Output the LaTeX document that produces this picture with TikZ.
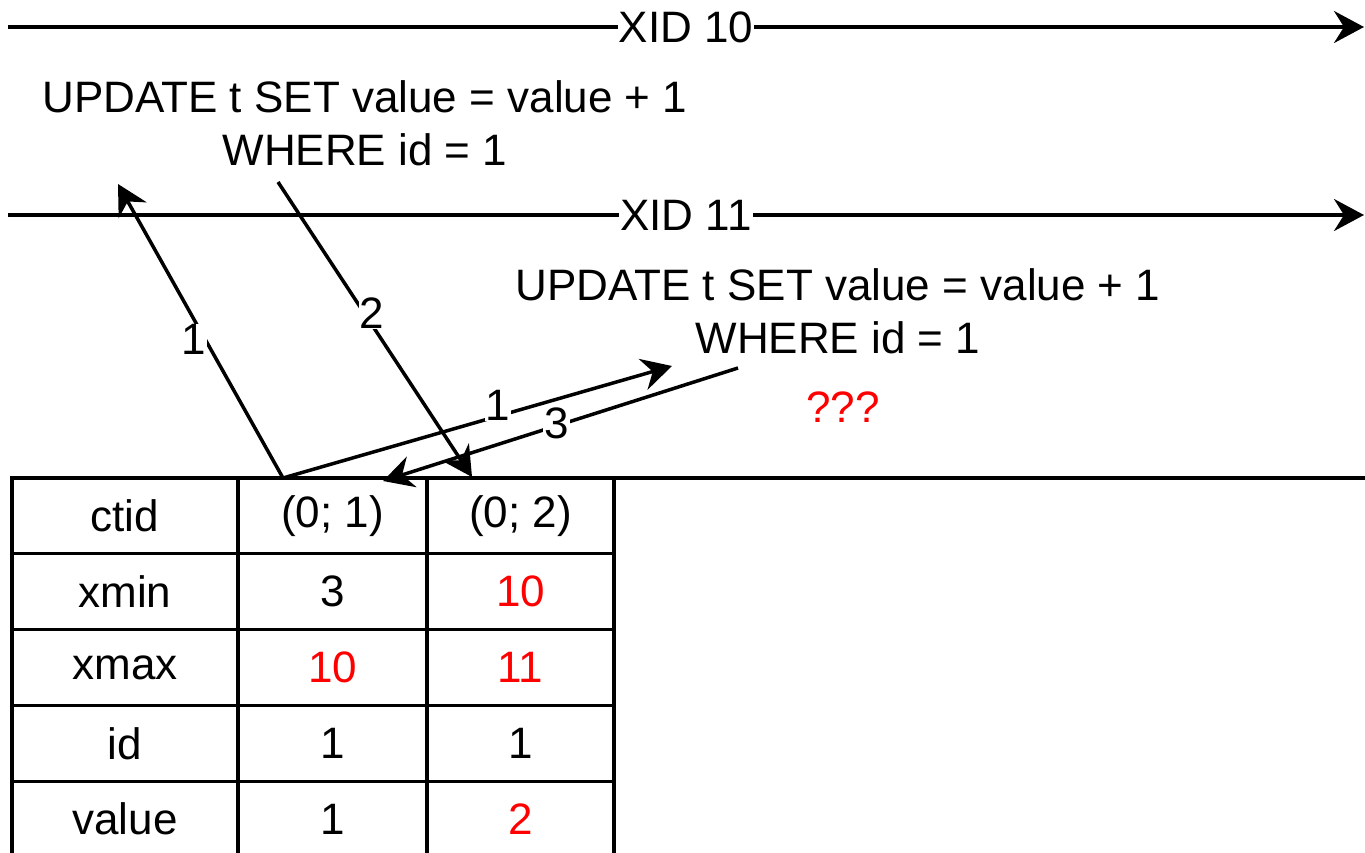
\documentclass[tikz,border=0pt]{standalone}
\usepackage{fontspec}
\newfontfamily\diafont{Liberation Sans}
\usetikzlibrary{arrows.meta}
\newcommand\diasize{\fontsize{44}{53}\selectfont}
\begin{document}
\begin{tikzpicture}[x=1pt,y=-1pt,
  ln/.style={line width=3.5pt},
  arr/.style={ln,-{Stealth[length=30pt,width=32pt,inset=10pt]}},
  lbl/.style={fill=white,inner sep=1pt,font=\diafont\diasize},
  txt/.style={align=center,inner sep=0pt,font=\diafont\diasize},
  cell/.style={draw,line width=3.2pt,inner sep=0pt,outer sep=0pt,minimum height=75.8pt,font=\diafont\diasize},
  colA/.style={cell,minimum width=226pt},
  colB/.style={cell,minimum width=189pt},
  colC/.style={cell,minimum width=187pt}
]
\useasboundingbox (0,0) rectangle (1365,852);
\clip (0,0) rectangle (1365,852);

% timelines
\coordinate (x10s) at (8,27);
\coordinate (x10e) at (1364,27);
\coordinate (x11s) at (8,215);
\coordinate (x11e) at (1364,215);
\draw[arr] (x10s) -- node[lbl] (l10) {XID 10} (x10e);
\draw[arr] (x11s) -- node[lbl] (l11) {XID 11} (x11e);

% statements
\node[txt] (u1) at (365,123) {UPDATE t SET value = value + 1\\WHERE id = 1};
\node[txt] (u2) at (838,311) {UPDATE t SET value = value + 1\\WHERE id = 1};
\node[txt,text=red] (q) at (843,407) {???};

% table
\foreach \r/\y/\a/\b/\c/\bs/\cs in {
  1/515.9/ctid/(0; 1)/(0; 2)/black/black,
  2/591.7/xmin/3/10/black/red,
  3/667.5/xmax/10/11/red/red,
  4/743.3/id/1/1/black/black,
  5/819.1/value/1/2/black/red}{
  \node[colA] (c\r1) at (125,\y) {\a};
  \node[colB,text=\bs] (c\r2) at (332.5,\y) {\b};
  \node[colC,text=\cs] (c\r3) at (520.5,\y) {\c};
}
\draw[line width=4.5pt] (c11.north west) -- (1365,478);

% connectors
\coordinate (a1s) at (283,478);
\coordinate (a1e) at (118,184);
\coordinate (b1e) at (672,366);
\coordinate (s2) at (278,182);
\coordinate (e2) at (472,477);
\coordinate (s3) at (738,368);
\coordinate (e3) at (383,481);

\draw[arr] (a1s) -- node[lbl,pos=0.47,xshift=-12pt] (n1a) {1} (a1e);
\draw[arr] (s2) -- node[lbl,pos=0.444,xshift=8pt] (n2) {2} (e2);
\draw[arr] (a1s) -- node[lbl,pos=0.553,yshift=11pt] (n1b) {1} (b1e);
\draw[arr] (s3) -- node[lbl,pos=0.511,yshift=2pt] (n3) {3} (e3);
\end{tikzpicture}
\end{document}
